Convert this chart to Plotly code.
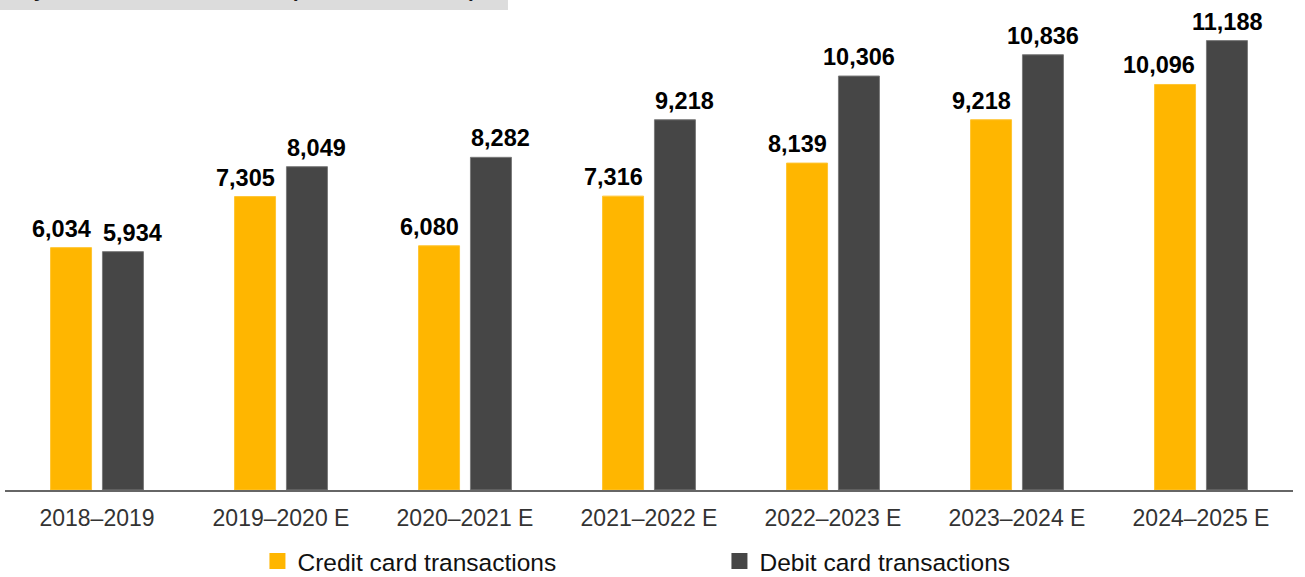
import plotly.graph_objects as go

categories = ["2018–2019", "2019–2020 E", "2020–2021 E", "2021–2022 E",
              "2022–2023 E", "2023–2024 E", "2024–2025 E"]
credit = [6034, 7305, 6080, 7316, 8139, 9218, 10096]
debit = [5934, 8049, 8282, 9218, 10306, 10836, 11188]
series_names = ["Credit card transactions", "Debit card transactions"]
series_colors = ["#FFB600", "#464646"]
title_text = "Key card transaction trends (volume in million)"

FONT = "Liberation Sans, Arial, Helvetica, sans-serif"
LABEL_FONT = dict(family=FONT, size=23.5, color="#000000")

fig = go.Figure()
for vals, name, col, lc in [(credit, series_names[0], series_colors[0], "#FFC533"),
                            (debit, series_names[1], series_colors[1], "#7a7a7a")]:
    fig.add_trace(go.Bar(
        x=categories, y=vals, name=name, showlegend=False,
        marker=dict(color=col, line=dict(color=lc, width=1)),
        hoverinfo="x+y",
    ))

# value labels: credit right-aligned to its bar, debit left-aligned (centered if wide)
for cat, v in zip(categories, credit):
    fig.add_annotation(x=cat, y=v, xref="x", yref="y", text="<b>{:,}</b>".format(v),
                       showarrow=False, xanchor="right", yanchor="bottom",
                       xshift=-4, yshift=4, font=LABEL_FONT)
for cat, v in zip(categories, debit):
    wide = v >= 10000
    fig.add_annotation(x=cat, y=v, xref="x", yref="y", text="<b>{:,}</b>".format(v),
                       showarrow=False, xanchor="center" if wide else "left",
                       yanchor="bottom", xshift=26 if wide else 4, yshift=4,
                       font=LABEL_FONT)

# legend entries (square swatches)
for name, col in zip(series_names, series_colors):
    fig.add_trace(go.Scatter(
        x=[None], y=[None], mode="markers", name=name,
        marker=dict(symbol="square", size=16, color=col),
    ))

# header band (partially cropped title)
fig.add_shape(type="rect", xref="paper", yref="paper",
              x0=-0.0039, x1=0.3905, y0=0.9959, y1=1.03,
              fillcolor="#DCDCDC", line=dict(width=0), layer="below")
fig.add_annotation(text="<b>" + title_text + "</b>", xref="paper", yref="paper",
                   x=0.0, y=1.0104, xanchor="left", yanchor="bottom",
                   showarrow=False, font=dict(family=FONT, size=21, color="#1a1a1a"))

fig.update_layout(
    width=1305, height=577,
    margin=dict(l=5, r=12, t=8, b=87, autoexpand=False),
    paper_bgcolor="white", plot_bgcolor="white",
    barmode="group", bargap=0.436, bargroupgap=0.21,
    xaxis=dict(showline=True, linecolor="#666666", linewidth=1.5, ticks="",
               tickfont=dict(family=FONT, size=23, color="#333333"),
               showgrid=False, ticklabelstandoff=7),
    yaxis=dict(range=[0, 12000], visible=False, showgrid=False),
    legend=dict(orientation="h", x=0.196, xanchor="left", y=-0.101, yanchor="top",
                font=dict(family=FONT, size=24.5, color="#111111"),
                entrywidth=417, traceorder="normal", itemclick=False),
    font=dict(family=FONT),
)

fig.write_html("out.html", config={"displayModeBar": False},
               post_script="document.body.style.margin='0';")
